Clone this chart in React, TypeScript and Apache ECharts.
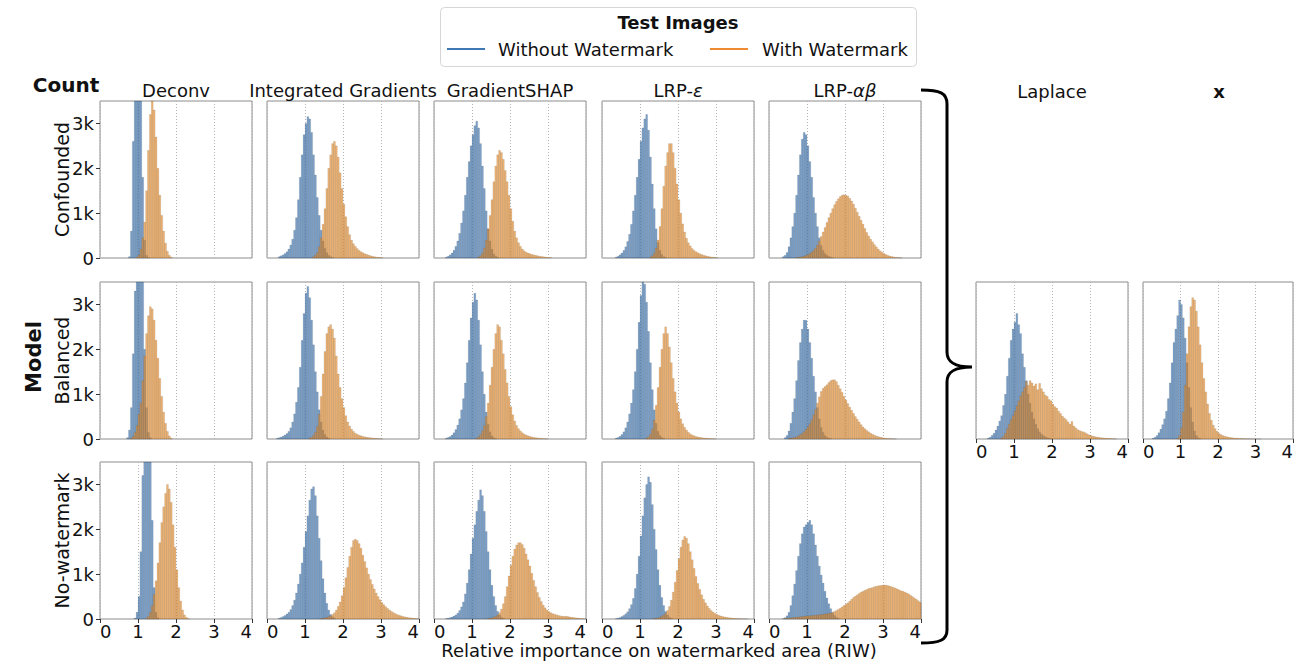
import React, { useEffect, useRef } from "react";
import * as echarts from "echarts";

// Histogram bins are 0.05 wide; each list starts at `from` (left bin edge).
const BIN_WIDTH = 0.05;
const X_TICKS = [0, 1, 2, 3, 4];
const Y_TICKS = [0, 1000, 2000, 3000];
const Y_MAX = 3500;
const X_MAX = 4;

const ROW_NAMES = ["Confounded", "Balanced", "No-watermark"];
const METHOD_NAMES = ["Deconv", "Integrated Gradients", "GradientSHAP", "LRP-ε", "LRP-αβ"];
const EXTRA_NAMES = ["Laplace", "x"];
const LEGEND_TITLE = "Test Images";
const LEGEND_NAMES = ["Without Watermark", "With Watermark"];
const X_AXIS_TITLE = "Relative importance on watermarked area (RIW)";

type Hist = { from: number; counts: number[] };

// ---- Confounded model ----
const confoundedDeconvWithout: Hist = { from: 0.75, counts: [30, 600, 2600, 4500, 5000, 4800, 3800, 1800, 400, 60, 10] };
const confoundedDeconvWith: Hist = { from: 0.95, counts: [20, 60, 200, 450, 800, 1500, 2400, 3200, 3500, 3300, 2700, 2000, 1400, 950, 600, 330, 150, 60, 20] };
const confoundedIGWithout: Hist = { from: 0.3, counts: [30, 50, 70, 100, 140, 200, 290, 420, 620, 900, 1300, 1800, 2300, 2750, 3000, 3150, 3100, 2800, 2300, 1850, 1350, 950, 620, 380, 220, 120, 60, 30, 10] };
const confoundedIGWith: Hist = { from: 1.2, counts: [30, 60, 120, 250, 450, 750, 1100, 1550, 2000, 2300, 2550, 2600, 2500, 2250, 1900, 1550, 1200, 920, 700, 520, 400, 320, 260, 210, 170, 140, 115, 95, 80, 65, 50, 40, 30, 20, 15, 10, 5] };
const confoundedShapWithout: Hist = { from: 0.3, counts: [20, 40, 70, 110, 170, 260, 380, 550, 780, 1050, 1400, 1800, 2150, 2500, 2750, 2950, 3050, 2900, 2550, 2050, 1550, 1050, 650, 380, 200, 90, 40, 15] };
const confoundedShapWith: Hist = { from: 1.15, counts: [20, 50, 110, 220, 400, 650, 950, 1300, 1700, 2050, 2300, 2400, 2350, 2200, 1950, 1700, 1400, 1100, 820, 600, 450, 340, 260, 200, 160, 130, 110, 95, 80, 70, 60, 50, 40, 35, 28, 22, 16, 10, 5] };
const confoundedEpsWithout: Hist = { from: 0.35, counts: [20, 40, 70, 110, 170, 250, 370, 530, 750, 1050, 1400, 1800, 2200, 2600, 2900, 3100, 3200, 2850, 2250, 1650, 1100, 650, 350, 170, 80, 30, 10] };
const confoundedEpsWith: Hist = { from: 1.25, counts: [20, 50, 110, 220, 400, 700, 1100, 1600, 2050, 2350, 2550, 2550, 2350, 2000, 1650, 1300, 1000, 760, 580, 440, 340, 270, 210, 170, 140, 115, 95, 78, 62, 50, 40, 30, 22, 15, 10, 5] };
const confoundedAlphaBetaWithout: Hist = { from: 0.35, counts: [30, 60, 120, 250, 450, 700, 1000, 1400, 1850, 2300, 2650, 2800, 2750, 2500, 2150, 1800, 1350, 1000, 700, 450, 280, 170, 100, 60, 35, 20, 10] };
const confoundedAlphaBetaWith: Hist = { from: 0.7, counts: [10, 15, 20, 30, 40, 55, 75, 100, 130, 170, 220, 290, 380, 480, 580, 680, 790, 900, 1000, 1100, 1190, 1260, 1320, 1370, 1400, 1410, 1400, 1380, 1330, 1270, 1200, 1110, 1020, 930, 840, 750, 660, 570, 490, 420, 360, 300, 250, 200, 160, 130, 100, 80, 60, 45, 35, 25, 18, 12, 8, 5] };

// ---- Balanced model ----
const balancedDeconvWithout: Hist = { from: 0.7, counts: [30, 200, 700, 1900, 3300, 4500, 5000, 4700, 3600, 2000, 700, 150, 30] };
const balancedDeconvWith: Hist = { from: 0.8, counts: [20, 60, 150, 300, 550, 800, 1300, 1850, 2350, 2750, 2950, 2900, 2650, 2200, 1800, 1350, 950, 600, 350, 170, 70, 20] };
const balancedIGWithout: Hist = { from: 0.25, counts: [20, 30, 45, 65, 90, 120, 170, 250, 380, 560, 820, 1150, 1600, 2200, 2800, 3250, 3400, 3150, 2650, 2100, 1500, 1050, 650, 380, 200, 100, 45, 20] };
const balancedIGWith: Hist = { from: 1.1, counts: [20, 40, 80, 150, 280, 550, 950, 1450, 1950, 2350, 2500, 2550, 2450, 2250, 1850, 1450, 1150, 900, 700, 520, 380, 290, 220, 170, 130, 105, 85, 70, 58, 48, 40, 34, 28, 22, 18, 14, 10, 7, 4] };
const balancedShapWithout: Hist = { from: 0.3, counts: [20, 35, 55, 90, 140, 210, 310, 450, 650, 900, 1250, 1700, 2200, 2700, 3050, 3250, 3100, 2650, 2100, 1500, 1000, 600, 330, 160, 70, 30, 10] };
const balancedShapWith: Hist = { from: 1.1, counts: [20, 50, 100, 180, 300, 500, 800, 1200, 1600, 2000, 2350, 2550, 2500, 2200, 1900, 1550, 1250, 950, 720, 540, 400, 300, 230, 180, 140, 110, 90, 72, 58, 46, 37, 30, 24, 18, 14, 10, 7, 4] };
const balancedEpsWithout: Hist = { from: 0.35, counts: [20, 35, 60, 100, 160, 250, 380, 560, 800, 1100, 1500, 2000, 2600, 3200, 3500, 3450, 3050, 2400, 1700, 1100, 650, 350, 170, 80, 35, 15] };
const balancedEpsWith: Hist = { from: 1.15, counts: [20, 50, 110, 220, 420, 750, 1150, 1600, 2000, 2350, 2500, 2350, 2050, 1700, 1350, 1050, 800, 600, 450, 340, 260, 200, 150, 115, 90, 72, 58, 46, 37, 30, 24, 19, 15, 11, 8, 6, 4] };
const balancedAlphaBetaWithout: Hist = { from: 0.4, counts: [30, 80, 180, 350, 600, 900, 1300, 1750, 2150, 2450, 2650, 2650, 2450, 2150, 1800, 1400, 1050, 700, 450, 260, 150, 80, 40, 20, 10] };
const balancedAlphaBetaWith: Hist = { from: 0.5, counts: [10, 15, 25, 35, 50, 70, 95, 125, 165, 210, 270, 340, 430, 540, 660, 800, 940, 1060, 1130, 1170, 1210, 1260, 1300, 1320, 1320, 1280, 1200, 1120, 1040, 950, 870, 790, 710, 640, 570, 500, 440, 380, 320, 270, 230, 190, 160, 130, 105, 85, 68, 54, 42, 32, 25, 19, 14, 10, 7, 5, 3] };

// ---- No-watermark model ----
const noWatermarkDeconvWithout: Hist = { from: 0.9, counts: [20, 150, 500, 1500, 3200, 4500, 5000, 4800, 3900, 2200, 700, 150, 30] };
const noWatermarkDeconvWith: Hist = { from: 1.2, counts: [20, 60, 150, 300, 550, 850, 1250, 1700, 2150, 2500, 2800, 3000, 2900, 2600, 2100, 1600, 1100, 700, 400, 200, 90, 35, 10] };
const noWatermarkIGWithout: Hist = { from: 0.3, counts: [20, 35, 55, 80, 110, 150, 210, 300, 420, 580, 780, 1000, 1250, 1600, 1950, 2300, 2650, 2900, 2950, 2750, 2300, 1800, 1300, 900, 580, 350, 200, 100, 50, 20] };
const noWatermarkIGWith: Hist = { from: 1.4, counts: [10, 15, 25, 35, 50, 70, 100, 140, 200, 280, 380, 520, 700, 920, 1150, 1400, 1600, 1750, 1780, 1750, 1680, 1580, 1420, 1280, 1140, 1000, 880, 770, 670, 580, 500, 430, 370, 320, 275, 235, 200, 170, 145, 120, 100, 85, 70, 58, 48, 40, 32, 26, 20, 15, 11, 8] };
const noWatermarkShapWithout: Hist = { from: 0.3, counts: [10, 20, 30, 45, 65, 90, 130, 190, 270, 380, 560, 800, 1100, 1450, 1800, 2100, 2400, 2650, 2880, 2750, 2400, 1950, 1500, 1100, 750, 500, 300, 170, 90, 40, 15] };
const noWatermarkShapWith: Hist = { from: 1.4, counts: [10, 15, 25, 40, 60, 90, 140, 220, 340, 500, 720, 960, 1200, 1400, 1560, 1650, 1700, 1700, 1660, 1580, 1450, 1320, 1180, 1020, 860, 720, 590, 480, 390, 310, 250, 200, 165, 140, 120, 105, 92, 80, 70, 62, 58, 62, 55, 45, 38, 32, 26, 20, 15, 10, 7, 4] };
const noWatermarkEpsWithout: Hist = { from: 0.35, counts: [10, 20, 35, 55, 80, 115, 160, 230, 320, 460, 680, 1000, 1400, 1850, 2300, 2700, 3000, 3170, 3050, 2550, 2000, 1550, 1100, 750, 480, 300, 170, 90, 40, 15] };
const noWatermarkEpsWith: Hist = { from: 1.35, counts: [10, 15, 25, 40, 60, 90, 130, 190, 280, 420, 600, 820, 1080, 1350, 1600, 1760, 1840, 1800, 1680, 1500, 1320, 1130, 950, 790, 660, 540, 440, 360, 290, 235, 190, 155, 125, 100, 82, 68, 56, 46, 38, 31, 25, 20, 16, 12, 9, 7, 5, 4, 3, 2] };
const noWatermarkAlphaBetaWithout: Hist = { from: 0.35, counts: [10, 30, 70, 150, 300, 520, 780, 1080, 1400, 1680, 1900, 2050, 2100, 2150, 2200, 2100, 1900, 1650, 1400, 1180, 980, 800, 620, 470, 340, 230, 140, 80, 40, 15] };
const noWatermarkAlphaBetaWith: Hist = { from: 0.4, counts: [10, 15, 20, 25, 30, 35, 40, 45, 50, 55, 60, 65, 68, 72, 76, 80, 85, 90, 95, 100, 105, 110, 118, 125, 135, 150, 170, 190, 215, 240, 270, 300, 330, 360, 400, 440, 480, 510, 540, 570, 600, 620, 640, 660, 680, 690, 700, 720, 730, 740, 745, 750, 760, 755, 745, 735, 720, 705, 690, 670, 650, 630, 620, 600, 580, 560, 530, 500, 470, 440, 410, 380, 360] };

// ---- Balanced model, additional explainers ----
const laplaceWithout: Hist = { from: 0.3, counts: [20, 40, 80, 130, 200, 290, 400, 520, 750, 1000, 1400, 1800, 2200, 2450, 2600, 2800, 2550, 2350, 1900, 1600, 1300, 1000, 800, 600, 450, 330, 230, 160, 110, 75, 50, 30, 20, 10] };
const laplaceWith: Hist = { from: 0.65, counts: [20, 60, 130, 230, 330, 430, 520, 620, 740, 850, 960, 1050, 1150, 1280, 1200, 1300, 1250, 1180, 1230, 1100, 1240, 1120, 1050, 980, 950, 880, 850, 780, 720, 690, 620, 570, 510, 470, 430, 380, 330, 390, 290, 250, 210, 190, 170, 160, 140, 115, 95, 80, 65, 55, 45, 38, 32, 26, 22, 18, 14, 11, 8, 6, 4] };
const inputWithout: Hist = { from: 0.25, counts: [20, 40, 80, 140, 220, 320, 450, 620, 900, 1250, 1700, 2150, 2450, 2750, 3100, 3000, 2700, 2250, 1700, 1150, 700, 380, 180, 80, 30, 10] };
const inputWith: Hist = { from: 0.9, counts: [20, 80, 250, 600, 1200, 1900, 2500, 2950, 3150, 3100, 2850, 2500, 2100, 1700, 1350, 1050, 780, 570, 420, 310, 230, 170, 130, 100, 80, 65, 52, 42, 35, 28, 23, 19, 16, 13, 11, 9, 7, 6, 5, 4, 3, 3, 2, 2, 2] };

type Panel = { row: number; col: number; without: Hist; with: Hist };

const PANELS: Panel[] = [
  { row: 0, col: 0, without: confoundedDeconvWithout, with: confoundedDeconvWith },
  { row: 0, col: 1, without: confoundedIGWithout, with: confoundedIGWith },
  { row: 0, col: 2, without: confoundedShapWithout, with: confoundedShapWith },
  { row: 0, col: 3, without: confoundedEpsWithout, with: confoundedEpsWith },
  { row: 0, col: 4, without: confoundedAlphaBetaWithout, with: confoundedAlphaBetaWith },
  { row: 1, col: 0, without: balancedDeconvWithout, with: balancedDeconvWith },
  { row: 1, col: 1, without: balancedIGWithout, with: balancedIGWith },
  { row: 1, col: 2, without: balancedShapWithout, with: balancedShapWith },
  { row: 1, col: 3, without: balancedEpsWithout, with: balancedEpsWith },
  { row: 1, col: 4, without: balancedAlphaBetaWithout, with: balancedAlphaBetaWith },
  { row: 2, col: 0, without: noWatermarkDeconvWithout, with: noWatermarkDeconvWith },
  { row: 2, col: 1, without: noWatermarkIGWithout, with: noWatermarkIGWith },
  { row: 2, col: 2, without: noWatermarkShapWithout, with: noWatermarkShapWith },
  { row: 2, col: 3, without: noWatermarkEpsWithout, with: noWatermarkEpsWith },
  { row: 2, col: 4, without: noWatermarkAlphaBetaWithout, with: noWatermarkAlphaBetaWith },
  { row: 1, col: 5, without: laplaceWithout, with: laplaceWith },
  { row: 1, col: 6, without: inputWithout, with: inputWith },
];

// Layout (px)
const COL_LEFT = [100, 267, 434, 602, 769, 976, 1143];
const ROW_TOP = [101, 282, 462];
const PANEL_W = 152;
const PANEL_H = 157;

const FONT = "DejaVu Sans";
const TEXT = "#111";
const BLUE_FILL = "rgba(62,116,176,0.68)";
const ORANGE_FILL = "rgba(228,140,44,0.66)";
const BAR_EDGE = "rgba(30,30,30,0.18)";
const BLUE_LINE = "#3f78b3";
const ORANGE_LINE = "#f08a30";

const BRACE_PATH =
  "M 921 90 C 940 90 947 93 947 104 L 947 352 C 947 362 954 367 972 367 C 954 367 947 372 947 382 L 947 630 C 947 640 940 643 921 643";

let braceRegistered = false;
function registerBrace() {
  if (braceRegistered) return;
  echarts.graphic.registerShape("brace", echarts.graphic.extendPath(BRACE_PATH, {}));
  braceRegistered = true;
}

function toData(h: Hist) {
  return h.counts.map((c, k) => [Math.round((h.from + k * BIN_WIDTH) * 1000) / 1000, c]);
}

function barRenderer(fill: string) {
  return (params: any, api: any) => {
    const x0 = api.value(0);
    const c = api.value(1);
    const top = api.coord([x0, c]);
    const bottom = api.coord([x0 + BIN_WIDTH, 0]);
    const cs = params.coordSys;
    const rect = echarts.graphic.clipRectByRect(
      { x: top[0], y: top[1], width: bottom[0] - top[0], height: bottom[1] - top[1] },
      { x: cs.x, y: cs.y, width: cs.width, height: cs.height }
    );
    if (!rect) return null;
    return {
      type: "rect",
      shape: rect,
      style: { fill, stroke: BAR_EDGE, lineWidth: 0.5 },
    };
  };
}

function buildOption() {
  const grid: any[] = [];
  const xAxis: any[] = [];
  const yAxis: any[] = [];
  const series: any[] = [];

  PANELS.forEach((p, i) => {
    const showX = p.row === 2 || p.col >= 5;
    const showY = p.col === 0;
    grid.push({
      left: COL_LEFT[p.col],
      top: ROW_TOP[p.row],
      width: PANEL_W,
      height: PANEL_H,
      show: true,
      borderColor: "#8c8c8c",
      borderWidth: 1,
      backgroundColor: "transparent",
    });
    xAxis.push({
      gridIndex: i,
      type: "value",
      min: 0,
      max: X_MAX,
      interval: 1,
      axisLine: { show: false },
      axisTick: { show: showX, length: 4, lineStyle: { color: "#333" } },
      axisLabel: {
        show: showX,
        customValues: X_TICKS,
        alignMinLabel: "left",
        alignMaxLabel: "right",
        margin: 3,
        fontFamily: FONT,
        fontSize: 18,
        color: TEXT,
      },
      splitLine: { show: true, lineStyle: { type: [1, 2], color: "#b4b4b4", width: 1 } },
    });
    yAxis.push({
      gridIndex: i,
      type: "value",
      min: 0,
      max: Y_MAX,
      interval: 1000,
      axisLine: { show: false },
      axisTick: { show: showY, length: 4, customValues: Y_TICKS, lineStyle: { color: "#333" } },
      axisLabel: {
        show: showY,
        customValues: Y_TICKS,
        margin: 6,
        fontFamily: FONT,
        fontSize: 18,
        color: TEXT,
        formatter: (v: number) => (v === 0 ? "0" : `${v / 1000}k`),
      },
      splitLine: { show: false },
    });
    series.push({
      type: "custom",
      name: LEGEND_NAMES[0],
      xAxisIndex: i,
      yAxisIndex: i,
      renderItem: barRenderer(BLUE_FILL),
      data: toData(p.without),
      silent: true,
    });
    series.push({
      type: "custom",
      name: LEGEND_NAMES[1],
      xAxisIndex: i,
      yAxisIndex: i,
      renderItem: barRenderer(ORANGE_FILL),
      data: toData(p.with),
      silent: true,
    });
  });

  const baseText = { fontFamily: FONT, fill: TEXT };
  const graphic: any[] = [];

  // Legend
  graphic.push({
    type: "rect",
    shape: { x: 440.5, y: 7.5, width: 476, height: 59, r: 4 },
    style: { fill: "#fff", stroke: "#d6d6d6", lineWidth: 1 },
  });
  graphic.push({
    type: "text",
    x: 678,
    y: 22,
    style: { ...baseText, text: LEGEND_TITLE, fontSize: 18, fontWeight: "bold", textAlign: "center", textVerticalAlign: "middle" },
  });
  graphic.push({ type: "line", shape: { x1: 447, y1: 49, x2: 485, y2: 49 }, style: { stroke: BLUE_LINE, lineWidth: 2 } });
  graphic.push({
    type: "text",
    x: 498,
    y: 49,
    style: { ...baseText, text: LEGEND_NAMES[0], fontSize: 18, textAlign: "left", textVerticalAlign: "middle" },
  });
  graphic.push({ type: "line", shape: { x1: 710, y1: 49, x2: 748, y2: 49 }, style: { stroke: ORANGE_LINE, lineWidth: 2 } });
  graphic.push({
    type: "text",
    x: 762,
    y: 49,
    style: { ...baseText, text: LEGEND_NAMES[1], fontSize: 18, textAlign: "left", textVerticalAlign: "middle" },
  });

  // Column titles
  const titleRich = {
    r: { fontFamily: FONT, fontSize: 18, fill: TEXT },
    i: { fontFamily: FONT, fontSize: 18, fill: TEXT, fontStyle: "italic" },
  };
  METHOD_NAMES.forEach((name, c) => {
    const m = name.match(/^(LRP-)(.+)$/);
    graphic.push({
      type: "text",
      x: COL_LEFT[c] + PANEL_W / 2,
      y: 90,
      style: {
        ...baseText,
        text: m ? `{r|${m[1]}}{i|${m[2]}}` : name,
        rich: titleRich,
        fontSize: 18,
        textAlign: "center",
        textVerticalAlign: "middle",
      },
    });
  });
  EXTRA_NAMES.forEach((name, k) => {
    graphic.push({
      type: "text",
      x: COL_LEFT[5 + k] + PANEL_W / 2,
      y: 91,
      style: {
        ...baseText,
        text: name,
        fontSize: 18,
        fontWeight: k === 1 ? "bold" : "normal",
        textAlign: "center",
        textVerticalAlign: "middle",
      },
    });
  });

  // Row labels
  ROW_NAMES.forEach((name, r) => {
    graphic.push({
      type: "text",
      x: 62,
      y: ROW_TOP[r] + PANEL_H / 2,
      rotation: Math.PI / 2,
      style: { ...baseText, text: name, fontSize: 19, textAlign: "center", textVerticalAlign: "middle" },
    });
  });
  graphic.push({
    type: "text",
    x: 34,
    y: 357,
    rotation: Math.PI / 2,
    style: { ...baseText, text: "Model", fontSize: 21, fontWeight: "bold", textAlign: "center", textVerticalAlign: "middle" },
  });
  graphic.push({
    type: "text",
    x: 66,
    y: 85,
    style: { ...baseText, text: "Count", fontSize: 20, fontWeight: "bold", textAlign: "center", textVerticalAlign: "middle" },
  });
  graphic.push({
    type: "text",
    x: 659,
    y: 650,
    style: { ...baseText, text: X_AXIS_TITLE, fontSize: 18, textAlign: "center", textVerticalAlign: "middle" },
  });

  // Brace grouping the balanced-model explainers
  graphic.push({
    type: "brace",
    x: 0,
    y: 0,
    style: { fill: "none", stroke: "#000", lineWidth: 3 },
  });

  return {
    animation: false,
    backgroundColor: "#fff",
    textStyle: { fontFamily: FONT },
    grid,
    xAxis,
    yAxis,
    series,
    graphic,
  };
}

export default function App() {
  const ref = useRef<HTMLDivElement>(null);
  useEffect(() => {
    if (!ref.current) return;
    registerBrace();
    const chart = echarts.init(ref.current, undefined, { renderer: "svg" });
    chart.setOption(buildOption() as any);
    return () => chart.dispose();
  }, []);
  return (
    <div
      ref={ref}
      style={{ position: "fixed", left: 0, top: 0, width: 1296, height: 664, background: "#fff" }}
    />
  );
}
